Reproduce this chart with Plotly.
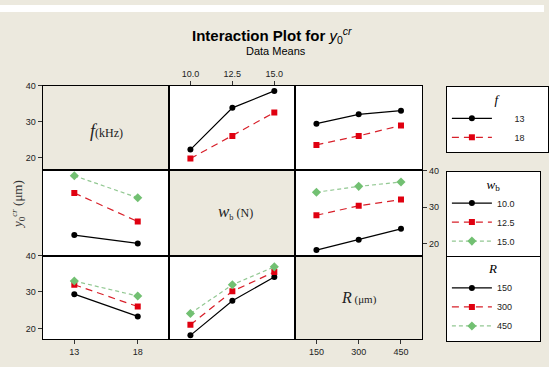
import plotly.graph_objects as go

# ---------------- data ----------------
f_levels = [13, 18]
wb_levels = [10.0, 12.5, 15.0]
R_levels = [150, 300, 450]

f_ticktext = ["13", "18"]
wb_ticktext = ["10.0", "12.5", "15.0"]
R_ticktext = ["150", "300", "450"]
y_ticks = [20, 30, 40]

# row f, x = w_b
f13_vs_wb = [22.3, 33.9, 38.6]
f18_vs_wb = [19.8, 26.1, 32.6]
# row f, x = R
f13_vs_R = [29.5, 32.1, 33.1]
f18_vs_R = [23.6, 26.1, 29.0]
# row w_b, x = f
wb10_vs_f = [22.4, 20.1]
wb125_vs_f = [33.9, 26.1]
wb15_vs_f = [38.6, 32.6]
# row w_b, x = R
wb10_vs_R = [18.3, 21.1, 24.1]
wb125_vs_R = [27.8, 30.4, 32.1]
wb15_vs_R = [34.1, 35.7, 36.9]
# row R, x = f
R150_vs_f = [29.4, 23.3]
R300_vs_f = [32.0, 26.0]
R450_vs_f = [33.0, 28.9]
# row R, x = w_b
R150_vs_wb = [18.1, 27.6, 34.1]
R300_vs_wb = [21.0, 30.2, 35.5]
R450_vs_wb = [24.1, 32.0, 36.9]

# ---------------- layout geometry ----------------
W, H = 549, 367
BEIGE = "#ECE9DE"
col_px = [(43, 171), (171, 298), (298, 426)]
row_px = [(82, 167), (167, 254), (254, 339)]
x_ranges = [[10.5, 20.5], [8.75, 16.25], [75, 525]]
y_ranges = [[16.7, 40.0], [16.8, 40.25], [17.0, 40.0]]

styles = [
    dict(line=dict(color="black", width=1.2),
         marker=dict(symbol="circle", size=6, color="black")),
    dict(line=dict(color="#D8202A", width=1.2, dash="7px,5px"),
         marker=dict(symbol="square", size=6, color="#E00010")),
    dict(line=dict(color="#92C892", width=1.2, dash="4px,3px"),
         marker=dict(symbol="diamond", size=7, color="#72C072")),
]

fig = go.Figure()

def ax_id(r, c):
    return r * 3 + c + 1

def ax_names(k):
    return ("x%d" % k if k > 1 else "x"), ("y%d" % k if k > 1 else "y")

def add_lines(r, c, xvals, series, names, legend, showlegend):
    xa, ya = ax_names(ax_id(r, c))
    for i, (ys, nm) in enumerate(zip(series, names)):
        fig.add_trace(go.Scatter(
            x=xvals, y=ys, mode="lines+markers", name=nm,
            xaxis=xa, yaxis=ya,
            legend=legend, showlegend=showlegend,
            line=styles[i]["line"], marker=styles[i]["marker"],
        ))

NB = "\u00a0"
f_names = [NB * 7 + "13" + NB * 7, NB * 7 + "18" + NB * 7]
wb_names = [t + NB * 8 for t in ["10.0", "12.5", "15.0"]]
R_names = [t + NB * 9 for t in ["150", "300", "450"]]

add_lines(0, 1, wb_levels, [f13_vs_wb, f18_vs_wb], f_names, "legend", True)
add_lines(0, 2, R_levels, [f13_vs_R, f18_vs_R], f_names, "legend", False)
add_lines(1, 0, f_levels, [wb10_vs_f, wb125_vs_f, wb15_vs_f], wb_names, "legend2", True)
add_lines(1, 2, R_levels, [wb10_vs_R, wb125_vs_R, wb15_vs_R], wb_names, "legend2", False)
add_lines(2, 0, f_levels, [R150_vs_f, R300_vs_f, R450_vs_f], R_names, "legend3", True)
add_lines(2, 1, wb_levels, [R150_vs_wb, R300_vs_wb, R450_vs_wb], R_names, "legend3", False)

# empty traces so that the diagonal (label) cells get their frames and ticks drawn
for d in range(3):
    xa, ya = ax_names(ax_id(d, d))
    fig.add_trace(go.Scatter(x=[None], y=[None], xaxis=xa, yaxis=ya,
                             showlegend=False, hoverinfo="skip", mode="markers"))

tickfont = dict(family="Liberation Sans, Arial, sans-serif", size=9, color="#222222")
x_vals = [f_levels, wb_levels, R_levels]
x_texts = [f_ticktext, wb_ticktext, R_ticktext]

layout_axes = {}
for r in range(3):
    for c in range(3):
        k = ax_id(r, c)
        xn, yn = ax_names(k)
        x0, x1 = col_px[c]
        top, bot = row_px[r]
        xa = dict(domain=[x0 / W, x1 / W], range=x_ranges[c], anchor=yn,
                  showgrid=False, zeroline=False, showline=True, mirror=True,
                  linecolor="black", linewidth=1, showticklabels=False, ticks="",
                  fixedrange=True)
        ya = dict(domain=[1 - bot / H, 1 - top / H], range=y_ranges[r], anchor=xn,
                  showgrid=False, zeroline=False, showline=True, mirror=True,
                  linecolor="black", linewidth=1, showticklabels=False, ticks="",
                  fixedrange=True)
        if (r, c) in [(2, 0), (2, 2)]:
            xa.update(showticklabels=True, ticks="outside", ticklen=4, tickcolor="#333",
                      tickvals=x_vals[c], ticktext=x_texts[c], tickfont=tickfont, side="bottom")
        if (r, c) == (0, 1):
            xa.update(showticklabels=True, ticks="outside", ticklen=4, tickcolor="#333",
                      tickvals=x_vals[c], ticktext=x_texts[c], tickfont=tickfont, side="top")
        if (r, c) in [(0, 0), (2, 0)]:
            ya.update(showticklabels=True, ticks="outside", ticklen=4, tickcolor="#333",
                      tickvals=y_ticks, tickfont=tickfont, side="left")
        if (r, c) == (1, 2):
            ya.update(showticklabels=True, ticks="outside", ticklen=4, tickcolor="#333",
                      tickvals=y_ticks, tickfont=tickfont, side="right")
        layout_axes["xaxis%d" % k if k > 1 else "xaxis"] = xa
        layout_axes["yaxis%d" % k if k > 1 else "yaxis"] = ya

fig.update_layout(**layout_axes)

shapes = []
for d in range(3):
    xn, yn = ax_names(ax_id(d, d))
    shapes.append(dict(type="rect", xref=xn + " domain", yref=yn + " domain",
                       x0=0, x1=1, y0=0, y1=1,
                       fillcolor=BEIGE, line=dict(width=0), layer="below"))
shapes.append(dict(type="rect", xref="paper", yref="paper", x0=0, x1=1,
                   y0=1 - 7 / H, y1=1, fillcolor="white", line=dict(width=0), layer="below"))

serif = "Liberation Serif, DejaVu Serif, serif"
sans = "Liberation Sans, Arial, sans-serif"

def ann(text, x, y, size, family, color="#222222", angle=0):
    return dict(text=text, x=x / W, y=1 - y / H, xref="paper", yref="paper",
                showarrow=False, xanchor="center", yanchor="middle", textangle=angle,
                font=dict(family=family, size=size, color=color))

annotations = [
    ann("<b>Interaction Plot for</b> <i>y</i><sub>0</sub><sup><i>cr</i></sup>",
        274, 31, 15, sans, "black"),
    ann("Data Means", 279, 47, 11, sans, "black"),
    ann("<i>y</i><sub>0</sub><sup><i>cr</i></sup> (μm)", 18, 202, 13, serif, "#333333", -90),
    ann("<span style='font-size:18px'><i>f</i></span>(kHz)", 107, 128, 12, serif),
    ann("<span style='font-size:17px'><i>w</i></span><sub>b</sub> (N)", 238, 210, 12, serif),
    ann("<span style='font-size:16px'><i>R</i></span> (μm)", 362, 297, 11, serif),
]

leg_common = dict(bgcolor="white", bordercolor="black", borderwidth=1,
                  xanchor="left", yanchor="top", x=450 / W, itemwidth=40,
                  font=dict(family=sans, size=9, color="#222222"),
                  itemclick=False, itemdoubleclick=False, tracegroupgap=0)

fig.update_layout(
    width=W, height=H, margin=dict(l=0, r=0, t=0, b=0),
    paper_bgcolor=BEIGE, plot_bgcolor="white",
    shapes=shapes, annotations=annotations,
    legend=dict(y=1 - 82 / H,
                title=dict(text="<i>f</i>", side="top center",
                           font=dict(family=serif, size=13, color="black")),
                **leg_common),
    legend2=dict(y=1 - 168 / H,
                 title=dict(text="<i>w</i><sub>b</sub>", side="top center",
                            font=dict(family=serif, size=13, color="black")),
                 **leg_common),
    legend3=dict(y=1 - 254 / H,
                 title=dict(text="<i>R</i>", side="top center",
                            font=dict(family=serif, size=13, color="black")),
                 **leg_common),
)

fig.write_html("out.html", config={"displayModeBar": False},
               post_script="document.body.style.margin='0';")
